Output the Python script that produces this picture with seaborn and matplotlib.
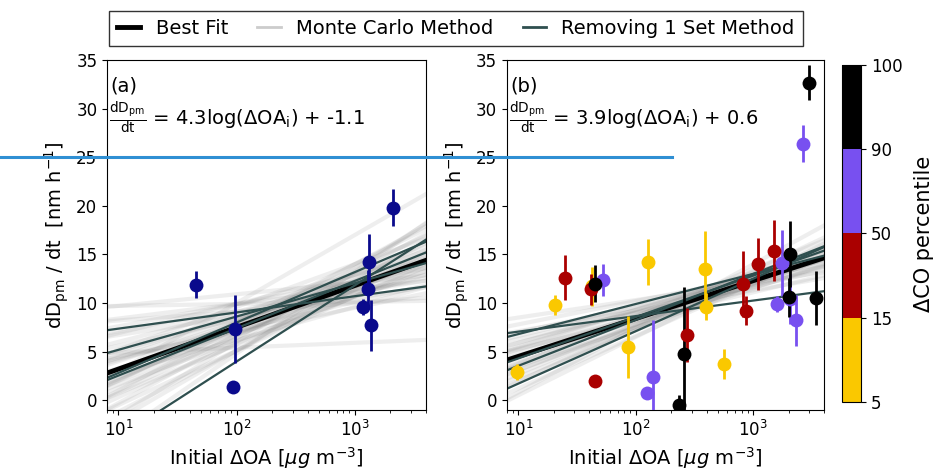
"""Growth rate vs initial dOA: best fit, Monte Carlo and leave-one-out fits."""

import matplotlib.pyplot as plt
import matplotlib.transforms as mtransforms
import numpy as np
import pandas as pd
import seaborn as sns
from matplotlib.colors import BoundaryNorm, ListedColormap
from matplotlib.cm import ScalarMappable
from matplotlib.lines import Line2D

# ---- panel (a) data ----
oa_a = [45, 97, 93, 1180, 1306, 1283, 1377, 2105]
gr_a = [11.9, 7.3, 1.3, 9.6, 14.2, 11.4, 7.7, 19.8]
err_a = [1.4, 3.5, 0.0, 0.8, 2.9, 2.0, 2.6, 1.9]

fit_a = (4.3, -1.1)
mc_slope_a = [4.3, 3.9, 4.7, 3.5, 5.1, 3.1, 5.5, 2.7, 5.9, 2.3, 6.3, 1.9, 6.7, 4.1,
              4.5, 3.7, 4.9, 3.3, 5.3, 2.9, 5.7, 1.5, 7.1, 0.9, 7.6, 4.0, 4.6, 3.0,
              5.6, 2.0, 0.5, 8.4, 0.2, 6.0, 3.4, 4.4, 5.0, 2.5, 6.5, 1.2, 7.0]
mc_int_a = [-1.1, 0.5, -2.7, 0.65, -2.9, 2.9, -5.2, 2.9, -5.1, 5.3, -7.5, 4.8, -7.0, 0.6,
            -2.9, -0.4, -1.8, 1.8, -4.0, 1.4, -3.6, 6.9, -9.1, 7.3, -9.2, 0.0, -2.2, 3.9,
            -6.1, 5.1, 4.4, -12.0, 9.5, -4.0, -0.6, 0.8, -4.3, 2.0, -5.5, 8.5, -4.0]
rm_slope_a = [1.67, 3.43, 5.19, 4.87, 7.83]
rm_int_a = [5.69, 1.75, -2.39, -2.34, -11.68]

# ---- panel (b) data ----
oa_b = [9.7, 20.4, 128, 86, 391, 398, 558, 42.4,
        24.8, 41.6, 45, 272, 818, 861, 1101, 1494,
        53, 124, 141, 1592, 1758, 2052, 2290, 2642,
        44.7, 234, 255, 2066, 2027, 2985, 3404]
gr_b = [2.9, 9.8, 14.2, 5.5, 13.5, 9.6, 3.7, 11.7,
        12.6, 11.4, 2.0, 6.7, 12.0, 9.2, 14.0, 15.4,
        12.4, 0.7, 2.4, 9.9, 14.1, 10.4, 8.2, 26.4,
        12.0, -0.5, 4.7, 15.0, 10.6, 32.7, 10.5]
err_b = [0.8, 1.0, 2.35, 3.2, 3.9, 1.4, 1.55, 2.0,
         2.3, 1.6, 0.0, 2.8, 3.4, 1.5, 2.7, 3.1,
         1.65, 0.4, 5.8, 0.8, 3.4, 2.6, 2.6, 1.9,
         1.9, 1.0, 6.9, 3.4, 2.0, 1.8, 2.8]
pct_b = ["5-15"] * 8 + ["15-50"] * 8 + ["50-90"] * 8 + ["90-100"] * 7

fit_b = (3.9, 0.6)
mc_slope_b = [3.9, 3.6, 4.2, 3.3, 4.5, 3.0, 4.8, 2.7, 5.1, 2.4, 5.4, 2.1, 5.7, 3.8,
              4.0, 3.5, 4.3, 3.2, 4.6, 2.9, 4.9, 3.7, 4.1, 3.4, 4.4, 2.6, 5.2, 1.8,
              6.0, 3.95, 6.6]
mc_int_b = [0.6, 1.8, -0.6, 1.9, -0.7, 3.6, -2.4, 3.6, -2.4, 5.4, -4.2, 5.0, -3.8, 1.7,
            -0.5, 1.1, 0.1, 2.7, -1.5, 2.4, -1.2, 1.2, 0.0, 2.5, -1.3, 4.4, -3.2, 6.7,
            -5.5, 0.5, -5.8]
rm_slope_b = [1.6, 3.1, 4.26, 4.73, 5.4]
rm_int_b = [5.45, 3.7, 0.04, -1.2, -3.7]

pct_bounds = [5, 15, 50, 90, 100]
pct_names = ["5-15", "15-50", "50-90", "90-100"]
pct_colors = ["#fac800", "#aa0000", "#7850f0", "#000000"]
point_color_a = "#0a0a8c"
rm_color = "#2f4f4f"
XLIM = (8, 4000)
XLABEL = r"Initial ΔOA [$\mu g$ m$^{-3}$]"
YLABEL = r"dD$_\mathrm{pm}$ / dt  [nm h$^{-1}$]"


def lines_frame(slopes, ints):
    rows = []
    for i, (s, b) in enumerate(zip(slopes, ints)):
        for x in XLIM:
            rows.append({"line": i, "x": x, "y": s * np.log10(x) + b})
    return pd.DataFrame(rows)


def draw_panel(ax, fit, mc_s, mc_b, rm_s, rm_b, tag):
    sns.lineplot(data=lines_frame(mc_s, mc_b), x="x", y="y", units="line",
                 estimator=None, color="#6a6a6a", alpha=0.11, lw=3, ax=ax,
                 legend=False, sort=False)
    sns.lineplot(data=lines_frame([fit[0]], [fit[1]]), x="x", y="y",
                 color="black", lw=3.5, ax=ax, legend=False)
    sns.lineplot(data=lines_frame(rm_s, rm_b), x="x", y="y", units="line",
                 estimator=None, color=rm_color, lw=1.6, ax=ax, legend=False,
                 sort=False)
    ax.set_xscale("log")
    ax.set_xlim(*XLIM)
    ax.set_ylim(-1, 35)
    ax.set_yticks(range(0, 36, 5))
    ax.tick_params(labelsize=12)
    ax.text(0.01, 0.925, tag, transform=ax.transAxes, fontsize=14, va="center")
    ax.text(0.005, 0.835,
            r"$\frac{\mathrm{dD_{pm}}}{\mathrm{dt}}$ = "
            + f"{fit[0]}log(ΔOA" + r"$_\mathrm{i}$" + f") + {fit[1]}",
            transform=ax.transAxes, fontsize=14, va="center")


fig = plt.figure(figsize=(9.34, 4.70), dpi=100)
ax1 = fig.add_axes([0.1146, 0.128, 0.3415, 0.744])
ax2 = fig.add_axes([0.5428, 0.128, 0.3394, 0.744])
cax = fig.add_axes([0.902, 0.1447, 0.0203, 0.717])

draw_panel(ax1, fit_a, mc_slope_a, mc_int_a, rm_slope_a, rm_int_a, "(a)")
draw_panel(ax2, fit_b, mc_slope_b, mc_int_b, rm_slope_b, rm_int_b, "(b)")

# points (a)
ax1.errorbar(oa_a, gr_a, yerr=err_a, fmt="none", ecolor=point_color_a,
             elinewidth=2, zorder=4)
sns.scatterplot(x=oa_a, y=gr_a, color=point_color_a, s=100, linewidth=0,
                ax=ax1, zorder=5, legend=False)

# points (b)
df_b = pd.DataFrame({"oa": oa_b, "gr": gr_b, "err": err_b, "pct": pct_b})
palette = dict(zip(pct_names, pct_colors))
for name in pct_names:
    sub = df_b[df_b["pct"] == name]
    ax2.errorbar(sub["oa"], sub["gr"], yerr=sub["err"], fmt="none",
                 ecolor=palette[name], elinewidth=2, zorder=4)
    sns.scatterplot(data=sub, x="oa", y="gr", color=palette[name], s=100,
                    linewidth=0, ax=ax2, zorder=5, legend=False)

for ax in (ax1, ax2):
    ax.set_xlabel(XLABEL, fontsize=14)
    ax.set_ylabel(YLABEL, fontsize=14)

# colorbar
cmap = ListedColormap(pct_colors)
norm = BoundaryNorm(pct_bounds, cmap.N)
cb = fig.colorbar(ScalarMappable(norm=norm, cmap=cmap), cax=cax,
                  ticks=pct_bounds)
cb.ax.tick_params(labelsize=12)
cb.set_label("ΔCO percentile", fontsize=15, labelpad=8)

# legend
handles = [Line2D([], [], color="black", lw=3.5),
           Line2D([], [], color="#cccccc", lw=2),
           Line2D([], [], color=rm_color, lw=2)]
labels = ["Best Fit", "Monte Carlo Method", "Removing 1 Set Method"]
fig.legend(handles, labels, loc="upper center", bbox_to_anchor=(0.488, 0.997),
           ncol=3, fontsize=14, fancybox=False, edgecolor="#333333",
           handlelength=1.2, columnspacing=1.5, framealpha=1)

# overlay guide at 25
trans = mtransforms.blended_transform_factory(fig.transFigure, ax1.transData)
fig.add_artist(Line2D([0, 0.72], [25, 25], transform=trans, color="#2f8fd3",
                      lw=2.2, zorder=10))

fig.savefig("out.png", dpi=100)
